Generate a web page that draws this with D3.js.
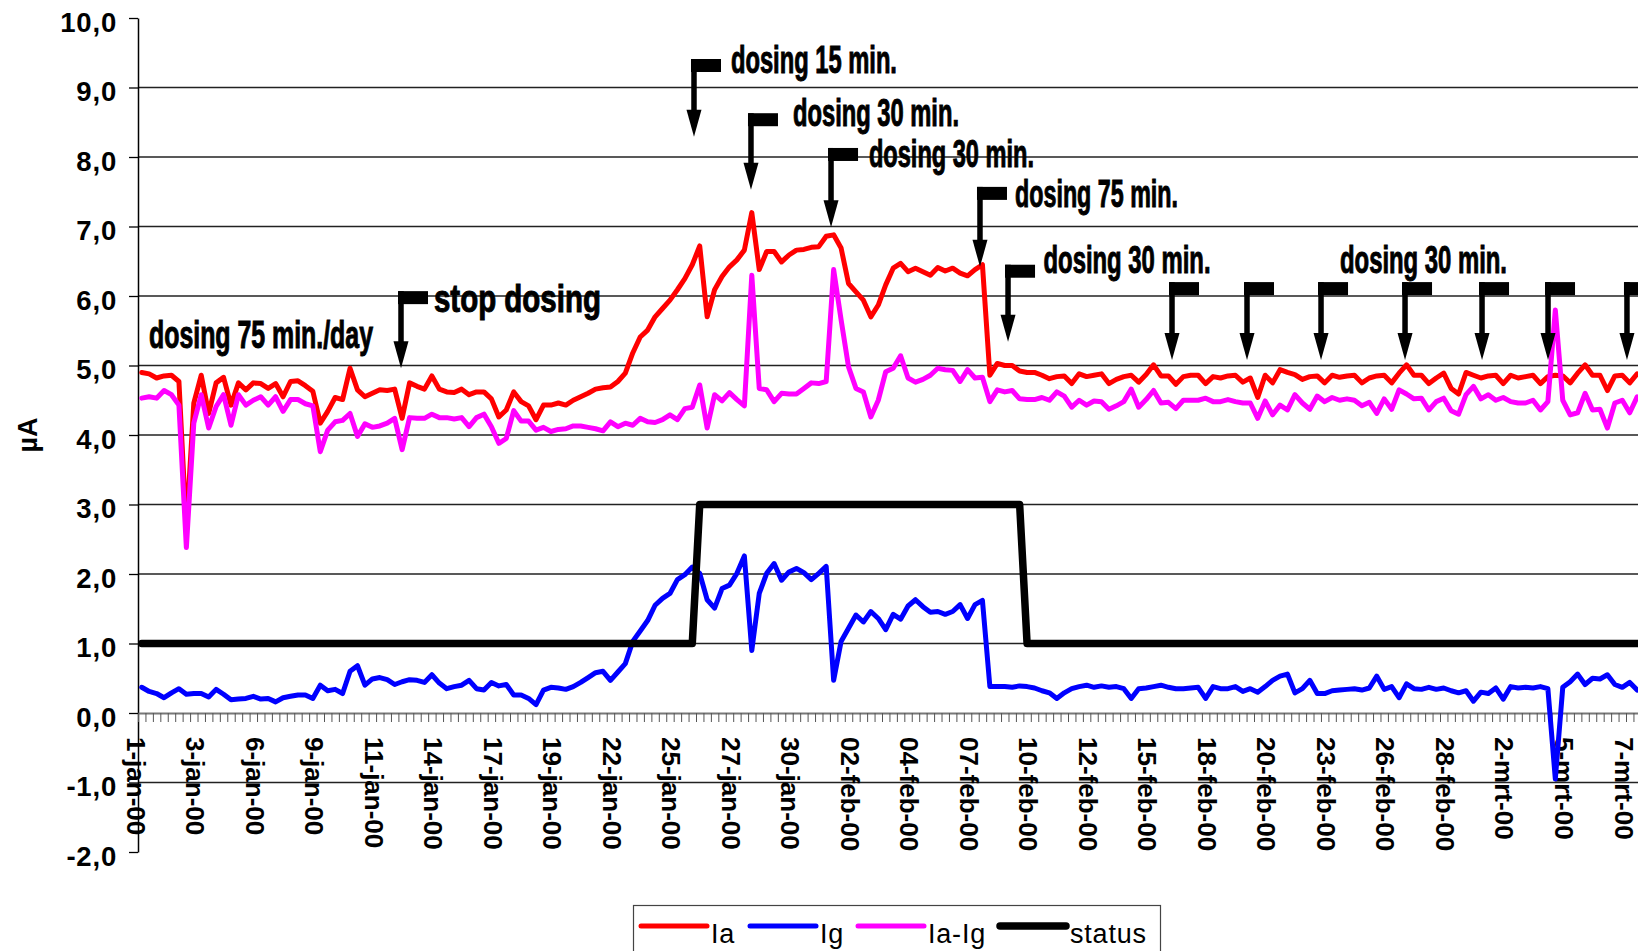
<!DOCTYPE html>
<html lang="en">
<head>
<meta charset="UTF-8">
<title>Ia / Ig dosing chart</title>
<script src="https://d3js.org/d3.v7.min.js"></script>
<style>
  body { margin: 0; background: #fff; }
  svg { display: block; font-family: "Liberation Sans", Arial, sans-serif; }
</style>
</head>
<body>
<svg width="1638" height="951"></svg>
<script>

// x-axis labels, one every 8 samples (3 samples per day)
const tickLabels = ["1-jan-00", "3-jan-00", "6-jan-00", "9-jan-00", "11-jan-00", "14-jan-00",
    "17-jan-00", "19-jan-00", "22-jan-00", "25-jan-00", "27-jan-00", "30-jan-00", "02-feb-00",
    "04-feb-00", "07-feb-00", "10-feb-00", "12-feb-00", "15-feb-00", "18-feb-00", "20-feb-00",
    "23-feb-00", "26-feb-00", "28-feb-00", "2-mrt-00", "5-mrt-00", "7-mrt-00"];
const labelStep = 8;

const ia = [
    4.90, 4.88, 4.82, 4.85, 4.86, 4.77, 2.65, 4.46, 4.86, 4.31, 4.75, 4.83, 4.43, 4.75, 4.65, 4.75,
    4.74, 4.67, 4.74, 4.55, 4.77, 4.78, 4.71, 4.63, 4.17, 4.34, 4.54, 4.51, 4.96, 4.65, 4.55, 4.60,
    4.65, 4.64, 4.66, 4.24, 4.75, 4.70, 4.66, 4.85, 4.66, 4.62, 4.61, 4.66, 4.58, 4.62, 4.62, 4.52,
    4.26, 4.36, 4.62, 4.48, 4.42, 4.22, 4.43, 4.43, 4.46, 4.43, 4.50, 4.55, 4.60, 4.66, 4.68, 4.69,
    4.77, 4.89, 5.18, 5.41, 5.51, 5.70, 5.82, 5.94, 6.09, 6.25, 6.45, 6.72, 5.70, 6.09, 6.28, 6.42,
    6.52, 6.66, 7.20, 6.38, 6.64, 6.64, 6.49, 6.59, 6.66, 6.67, 6.70, 6.71, 6.86, 6.88, 6.69, 6.18,
    6.06, 5.94, 5.70, 5.87, 6.16, 6.40, 6.47, 6.35, 6.40, 6.35, 6.30, 6.41, 6.36, 6.40, 6.33, 6.29,
    6.38, 6.45, 4.86, 5.03, 5.00, 5.00, 4.92, 4.90, 4.90, 4.86, 4.81, 4.84, 4.85, 4.74, 4.88, 4.84,
    4.86, 4.88, 4.74, 4.80, 4.84, 4.86, 4.76, 4.87, 5.01, 4.85, 4.85, 4.73, 4.84, 4.86, 4.86, 4.74,
    4.84, 4.82, 4.85, 4.86, 4.76, 4.82, 4.54, 4.86, 4.75, 4.94, 4.90, 4.87, 4.80, 4.84, 4.85, 4.75,
    4.86, 4.83, 4.85, 4.86, 4.75, 4.82, 4.85, 4.86, 4.75, 4.89, 5.01, 4.86, 4.86, 4.74, 4.82, 4.89,
    4.67, 4.59, 4.90, 4.86, 4.82, 4.85, 4.86, 4.74, 4.86, 4.82, 4.84, 4.86, 4.74, 4.84, 4.86, 4.85,
    4.75, 4.89, 5.01, 4.86, 4.86, 4.64, 4.85, 4.86, 4.75, 4.88
];

const ig = [
    0.37, 0.31, 0.28, 0.22, 0.29, 0.35, 0.27, 0.28, 0.28, 0.23, 0.34, 0.27, 0.19, 0.20, 0.21, 0.24,
    0.20, 0.21, 0.16, 0.22, 0.24, 0.26, 0.26, 0.21, 0.40, 0.32, 0.34, 0.28, 0.60, 0.68, 0.40, 0.49,
    0.51, 0.48, 0.41, 0.45, 0.48, 0.47, 0.44, 0.55, 0.43, 0.35, 0.38, 0.40, 0.47, 0.35, 0.33, 0.44,
    0.39, 0.41, 0.26, 0.26, 0.21, 0.12, 0.33, 0.37, 0.36, 0.34, 0.38, 0.44, 0.51, 0.58, 0.60, 0.47,
    0.59, 0.71, 1.03, 1.18, 1.33, 1.55, 1.65, 1.72, 1.92, 1.99, 2.10, 2.01, 1.63, 1.51, 1.79, 1.84,
    2.01, 2.26, 0.90, 1.72, 2.01, 2.15, 1.91, 2.03, 2.08, 2.02, 1.92, 2.01, 2.11, 0.47, 1.03, 1.22,
    1.41, 1.31, 1.46, 1.36, 1.20, 1.42, 1.35, 1.54, 1.63, 1.53, 1.45, 1.46, 1.42, 1.46, 1.56, 1.36,
    1.56, 1.62, 0.38, 0.38, 0.38, 0.37, 0.39, 0.38, 0.36, 0.32, 0.29, 0.21, 0.29, 0.35, 0.38, 0.40,
    0.37, 0.39, 0.37, 0.38, 0.35, 0.21, 0.35, 0.36, 0.38, 0.40, 0.37, 0.35, 0.35, 0.36, 0.37, 0.21,
    0.38, 0.35, 0.35, 0.38, 0.31, 0.35, 0.30, 0.38, 0.47, 0.53, 0.56, 0.29, 0.35, 0.47, 0.28, 0.28,
    0.32, 0.33, 0.34, 0.35, 0.33, 0.36, 0.53, 0.34, 0.38, 0.22, 0.42, 0.35, 0.34, 0.37, 0.34, 0.36,
    0.32, 0.29, 0.32, 0.17, 0.30, 0.28, 0.36, 0.20, 0.38, 0.36, 0.37, 0.36, 0.38, 0.35, -0.95, 0.37,
    0.45, 0.56, 0.41, 0.50, 0.49, 0.55, 0.41, 0.37, 0.44, 0.33
];

const iaMinusIg = [
    4.53, 4.55, 4.53, 4.64, 4.58, 4.43, 2.38, 4.17, 4.58, 4.10, 4.41, 4.58, 4.14, 4.58, 4.43, 4.50,
    4.55, 4.43, 4.55, 4.34, 4.51, 4.51, 4.45, 4.42, 3.76, 4.07, 4.19, 4.21, 4.31, 3.98, 4.16, 4.11,
    4.13, 4.17, 4.24, 3.79, 4.25, 4.24, 4.24, 4.30, 4.25, 4.25, 4.23, 4.25, 4.12, 4.25, 4.30, 4.12,
    3.88, 3.95, 4.35, 4.20, 4.20, 4.07, 4.11, 4.05, 4.08, 4.09, 4.13, 4.13, 4.11, 4.09, 4.06, 4.19,
    4.12, 4.17, 4.14, 4.24, 4.19, 4.18, 4.22, 4.29, 4.22, 4.38, 4.40, 4.72, 4.10, 4.58, 4.49, 4.61,
    4.51, 4.42, 6.30, 4.67, 4.65, 4.48, 4.60, 4.59, 4.59, 4.67, 4.75, 4.74, 4.77, 6.38, 5.66, 4.98,
    4.67, 4.62, 4.26, 4.50, 4.91, 4.96, 5.14, 4.82, 4.76, 4.80, 4.86, 4.96, 4.94, 4.93, 4.77, 4.94,
    4.82, 4.83, 4.48, 4.65, 4.62, 4.64, 4.52, 4.51, 4.51, 4.54, 4.50, 4.62, 4.56, 4.40, 4.50, 4.43,
    4.49, 4.48, 4.37, 4.42, 4.48, 4.66, 4.40, 4.51, 4.64, 4.46, 4.47, 4.38, 4.50, 4.50, 4.50, 4.53,
    4.48, 4.48, 4.51, 4.48, 4.46, 4.46, 4.24, 4.49, 4.29, 4.43, 4.36, 4.58, 4.46, 4.37, 4.56, 4.48,
    4.54, 4.50, 4.52, 4.50, 4.42, 4.47, 4.31, 4.52, 4.37, 4.65, 4.59, 4.52, 4.53, 4.36, 4.48, 4.53,
    4.35, 4.30, 4.58, 4.70, 4.52, 4.58, 4.50, 4.54, 4.48, 4.46, 4.46, 4.50, 4.36, 4.48, 5.80, 4.50,
    4.29, 4.32, 4.60, 4.36, 4.37, 4.10, 4.46, 4.50, 4.32, 4.55
];

const status = [
    1, 1, 1, 1, 1, 1, 1, 1, 1, 1, 1, 1, 1, 1, 1, 1, 1, 1, 1, 1, 1, 1, 1, 1, 1, 1, 1, 1, 1, 1,
    1, 1, 1, 1, 1, 1, 1, 1, 1, 1, 1, 1, 1, 1, 1, 1, 1, 1, 1, 1, 1, 1, 1, 1, 1, 1, 1, 1, 1, 1,
    1, 1, 1, 1, 1, 1, 1, 1, 1, 1, 1, 1, 1, 1, 1, 3, 3, 3, 3, 3, 3, 3, 3, 3, 3, 3, 3, 3, 3, 3,
    3, 3, 3, 3, 3, 3, 3, 3, 3, 3, 3, 3, 3, 3, 3, 3, 3, 3, 3, 3, 3, 3, 3, 3, 3, 3, 3, 3, 3, 1,
    1, 1, 1, 1, 1, 1, 1, 1, 1, 1, 1, 1, 1, 1, 1, 1, 1, 1, 1, 1, 1, 1, 1, 1, 1, 1, 1, 1, 1, 1,
    1, 1, 1, 1, 1, 1, 1, 1, 1, 1, 1, 1, 1, 1, 1, 1, 1, 1, 1, 1, 1, 1, 1, 1, 1, 1, 1, 1, 1, 1,
    1, 1, 1, 1, 1, 1, 1, 1, 1, 1, 1, 1, 1, 1, 1, 1, 1, 1, 1, 1, 1, 1
];

const series = [
    { name: "Ia", values: ia, color: "#ff0000", width: 5 },
    { name: "Ig", values: ig, color: "#0000ff", width: 5 },
    { name: "Ia-Ig", values: iaMinusIg, color: "#ff00ff", width: 5 },
    { name: "status", values: status, color: "#000000", width: 7.5 }
];

// annotations, positioned in chart units (category position, value)
const notes = [
    { text: "dosing 75 min./day", c: 1.48, v: 5.25, w: 224 },
    { text: "stop dosing", c: 39.78, v: 5.77, w: 167 },
    { text: "dosing 15 min.", c: 79.7, v: 9.21, w: 166 },
    { text: "dosing 30 min.", c: 88.04, v: 8.45, w: 166 },
    { text: "dosing 30 min.", c: 98.25, v: 7.86, w: 165 },
    { text: "dosing 75 min.", c: 117.88, v: 7.28, w: 163 },
    { text: "dosing 30 min.", c: 121.71, v: 6.33, w: 167 },
    { text: "dosing 30 min.", c: 161.56, v: 6.33, w: 167 }
];
const arrows = [
    { c: 35.35, top: 6.07, tip: 4.96 },
    { c: 74.73, top: 9.41, tip: 8.29 },
    { c: 82.39, top: 8.63, tip: 7.53 },
    { c: 93.15, top: 8.13, tip: 6.99 },
    { c: 113.17, top: 7.57, tip: 6.42 },
    { c: 116.94, top: 6.45, tip: 5.34 },
    { c: 138.98, top: 6.20, tip: 5.08 },
    { c: 149.06, top: 6.20, tip: 5.08 },
    { c: 159.01, top: 6.20, tip: 5.08 },
    { c: 170.30, top: 6.20, tip: 5.08 },
    { c: 180.65, top: 6.20, tip: 5.08 },
    { c: 189.52, top: 6.20, tip: 5.08 },
    { c: 200.13, top: 6.20, tip: 5.08 }
];

const svg = d3.select("svg");
const left = 138, right = 1638;
const nCats = ia.length;

const x = d3.scaleLinear().domain([0, nCats]).range([left, left + nCats * 7.44]);
const y = d3.scaleLinear().domain([-2, 10]).range([852, 18]);

// gridlines
svg.append("g")
    .selectAll("line")
    .data(d3.range(-1, 10).filter(d => d !== 0))
    .join("line")
    .attr("x1", left).attr("x2", right)
    .attr("y1", d => y(d)).attr("y2", d => y(d))
    .attr("stroke", "#222").attr("stroke-width", 1.3);

// y axis
const fmt = d => (d < 0 ? "-" : "") + Math.abs(d).toFixed(1).replace(".", ",");
const yAxis = svg.append("g")
    .attr("transform", `translate(${left},0)`)
    .call(d3.axisLeft(y).tickValues(d3.range(-2, 11)).tickSize(9).tickSizeOuter(0)
        .tickPadding(12).tickFormat(fmt));
yAxis.select(".domain").attr("stroke", "#000").attr("stroke-width", 1.5);
yAxis.selectAll(".tick line").attr("stroke", "#000").attr("stroke-width", 1.3);
yAxis.selectAll("text")
    .attr("dy", "0.48em")
    .style("font-size", "27.5px").style("font-weight", "bold")
    .style("letter-spacing", "0.8px").attr("fill", "#000");

svg.append("text")
    .attr("transform", `translate(37,${y(4)}) rotate(-90)`)
    .attr("text-anchor", "middle")
    .style("font-size", "27px").style("font-weight", "bold")
    .text("µA");

// x axis at zero
const xAxis = svg.append("g")
    .attr("transform", `translate(0,${y(0)})`)
    .call(d3.axisBottom(x).tickValues(d3.range(0, nCats + 1)).tickSize(9).tickSizeOuter(0)
        .tickFormat(d => d % labelStep === 0 ? (tickLabels[d / labelStep] || "") : ""));
xAxis.select(".domain").attr("stroke", "#777").attr("stroke-width", 2.2);
xAxis.selectAll(".tick line").attr("stroke", "#555").attr("stroke-width", 1);
xAxis.selectAll("text")
    .attr("transform", "rotate(90)")
    .attr("x", 24).attr("y", 0).attr("dy", "0.46em")
    .attr("text-anchor", "start")
    .style("font-size", "26px").style("font-weight", "bold").attr("fill", "#000");

// series lines
const line = d3.line()
    .x((d, i) => x(i + 0.5))
    .y(d => y(d));

svg.append("g")
    .selectAll("path")
    .data(series)
    .join("path")
    .attr("d", d => line(d.values))
    .attr("fill", "none")
    .attr("stroke", d => d.color)
    .attr("stroke-width", d => d.width)
    .attr("stroke-linejoin", "round")
    .attr("stroke-linecap", "round");

// annotation flags
const ann = svg.append("g");
arrows.forEach(a => {
    const ax = x(a.c), yt = y(a.top), yp = y(a.tip);
    ann.append("rect")
        .attr("x", ax - 3).attr("y", yt).attr("width", 30).attr("height", 13)
        .attr("fill", "#000");
    ann.append("line")
        .attr("x1", ax).attr("x2", ax).attr("y1", yt).attr("y2", yp - 24)
        .attr("stroke", "#000").attr("stroke-width", 5.5);
    ann.append("path")
        .attr("d", `M${ax - 7.5},${yp - 27}L${ax + 7.5},${yp - 27}L${ax},${yp}Z`)
        .attr("fill", "#000");
});
ann.selectAll("text.note")
    .data(notes)
    .join("text")
    .attr("class", "note")
    .attr("x", d => x(d.c)).attr("y", d => y(d.v))
    .attr("textLength", d => d.w)
    .attr("lengthAdjust", "spacingAndGlyphs")
    .style("font-size", "38px").style("font-weight", "bold")
    .attr("fill", "#000").attr("stroke", "#000").attr("stroke-width", 1)
    .text(d => d.text);

// legend
const legendX = [641, 750, 858, 1000];
const legend = svg.append("g");
legend.append("rect")
    .attr("x", 633.5).attr("y", 905.5).attr("width", 527).attr("height", 60)
    .attr("fill", "#fff").attr("stroke", "#444").attr("stroke-width", 1.2);
series.forEach((s, i) => {
    legend.append("line")
        .attr("x1", legendX[i]).attr("x2", legendX[i] + 66)
        .attr("y1", 926).attr("y2", 926)
        .attr("stroke", s.color).attr("stroke-width", s.width)
        .attr("stroke-linecap", "round");
    legend.append("text")
        .attr("x", legendX[i] + 70).attr("y", 943)
        .style("font-size", "27px").style("letter-spacing", "0.8px")
        .text(s.name);
});

</script>
</body>
</html>
